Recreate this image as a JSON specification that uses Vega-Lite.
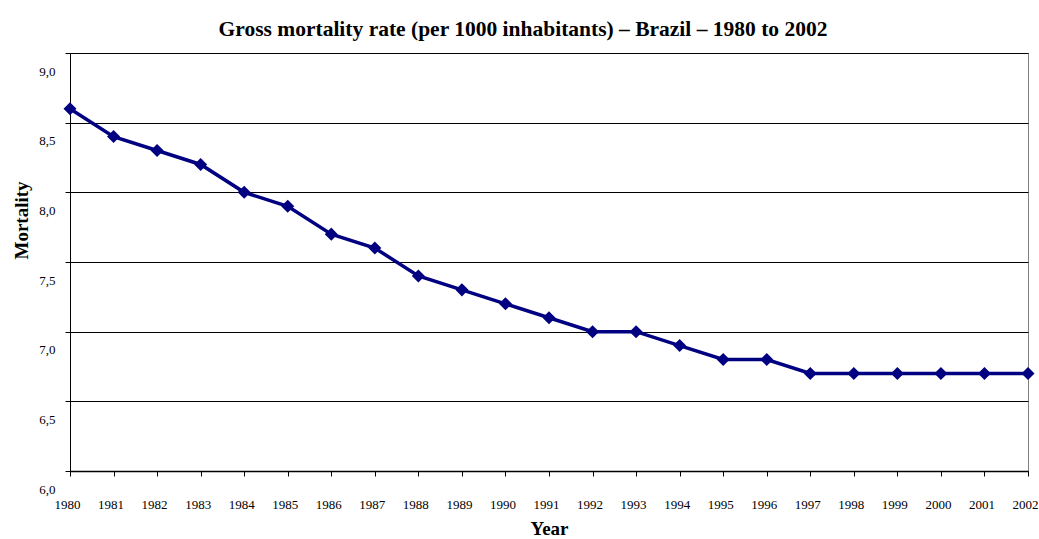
{
  "$schema": "https://vega.github.io/schema/vega-lite/v6.json",
  "width": 958,
  "height": 418,
  "autosize": {"type": "none"},
  "padding": {"left": 70, "top": 53, "right": 11, "bottom": 68},
  "background": "white",
  "title": {
    "text": "Gross mortality rate (per 1000 inhabitants) – Brazil – 1980 to 2002",
    "font": "Liberation Serif",
    "fontSize": 21.5,
    "fontWeight": "bold",
    "color": "black",
    "anchor": "middle",
    "dx": -26,
    "offset": 12
  },
  "config": {
    "view": {"stroke": "#808080", "strokeWidth": 1},
    "axis": {
      "labelFont": "Liberation Serif",
      "labelFontSize": 13,
      "labelColor": "black",
      "titleFont": "Liberation Serif",
      "titleFontSize": 19,
      "titleFontWeight": "bold",
      "titleColor": "black",
      "domainColor": "black",
      "tickColor": "black",
      "tickSize": 5,
      "gridColor": "black",
      "gridOpacity": 1
    }
  },
  "data": {
    "values": [
      {"year": 1980, "mortality": 8.6},
      {"year": 1981, "mortality": 8.4},
      {"year": 1982, "mortality": 8.3},
      {"year": 1983, "mortality": 8.2},
      {"year": 1984, "mortality": 8.0},
      {"year": 1985, "mortality": 7.9},
      {"year": 1986, "mortality": 7.7},
      {"year": 1987, "mortality": 7.6},
      {"year": 1988, "mortality": 7.4},
      {"year": 1989, "mortality": 7.3},
      {"year": 1990, "mortality": 7.2},
      {"year": 1991, "mortality": 7.1},
      {"year": 1992, "mortality": 7.0},
      {"year": 1993, "mortality": 7.0},
      {"year": 1994, "mortality": 6.9},
      {"year": 1995, "mortality": 6.8},
      {"year": 1996, "mortality": 6.8},
      {"year": 1997, "mortality": 6.7},
      {"year": 1998, "mortality": 6.7},
      {"year": 1999, "mortality": 6.7},
      {"year": 2000, "mortality": 6.7},
      {"year": 2001, "mortality": 6.7},
      {"year": 2002, "mortality": 6.7}
    ]
  },
  "encoding": {
    "x": {
      "field": "year",
      "type": "quantitative",
      "scale": {"domain": [1980, 2002], "nice": false, "zero": false},
      "axis": {
        "title": "Year",
        "values": [1980,1981,1982,1983,1984,1985,1986,1987,1988,1989,1990,1991,1992,1993,1994,1995,1996,1997,1998,1999,2000,2001,2002],
        "format": "d",
        "grid": false,
        "labelPadding": 22,
        "labelOffset": -3,
        "titlePadding": 8,
        "labelFlush": false,
        "labelOverlap": false,
        "domainWidth": 1.5
      }
    },
    "y": {
      "field": "mortality",
      "type": "quantitative",
      "scale": {"domain": [6, 9], "nice": false, "zero": false},
      "axis": {
        "title": "Mortality",
        "titleY": 167,
        "values": [6, 6.5, 7, 7.5, 8, 8.5, 9],
        "labelExpr": "replace(format(datum.value, '.1f'), '.', ',')",
        "labelOffset": 18,
        "labelPadding": 10,
        "titlePadding": 7,
        "grid": true,
        "labelFlush": false
      }
    }
  },
  "layer": [
    {"mark": {"type": "line", "color": "#000080", "strokeWidth": 3.5}},
    {"mark": {"type": "point", "shape": "diamond", "filled": true, "color": "#000080", "size": 170, "opacity": 1}}
  ]
}
